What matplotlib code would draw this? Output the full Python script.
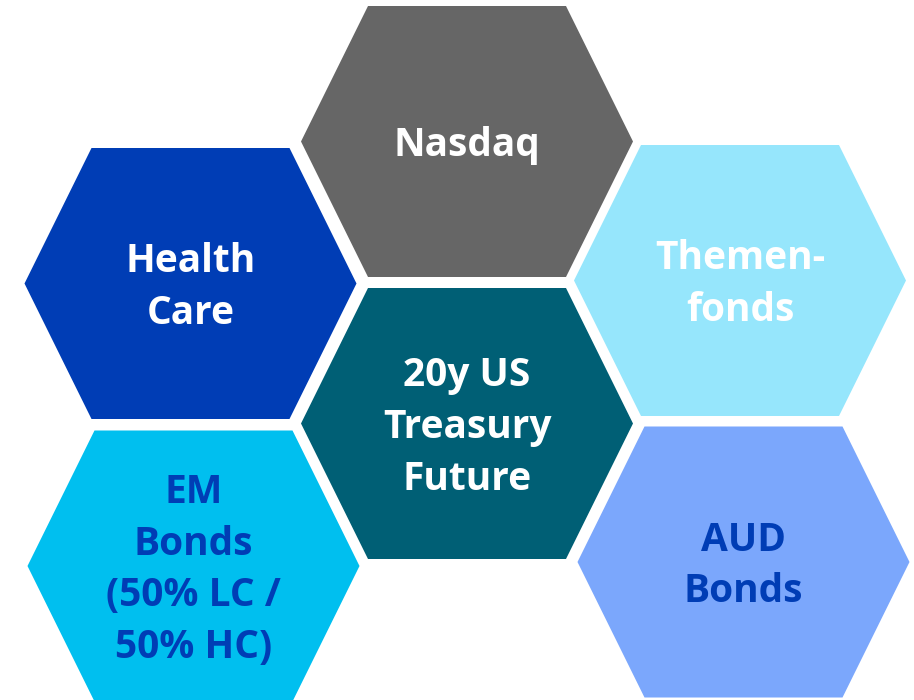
import matplotlib.pyplot as plt
from matplotlib.patches import Polygon

# Hexagon labels and styling
labels = ['Nasdaq', 'Health\nCare', 'Themen-\nfonds', '20y US\nTreasury\nFuture',
          'EM\nBonds\n(50% LC /\n50% HC)', 'AUD\nBonds']
fill_colors = ['#666666', '#003DB5', '#96E6FC', '#005F75', '#00BFEF', '#7BA7FC']
text_colors = ['white', 'white', 'white', 'white', '#003DB5', '#003DB5']

# layout: hexagon centres in pixel coordinates
centers = [(467, 141.5), (190.5, 283.5), (740, 280.5), (467, 423.5), (193.5, 566), (743.5, 562)]
half_w, half_h, top_w = 166, 135.5, 99

fig = plt.figure(figsize=(9.14, 7), dpi=100)
ax = fig.add_axes([0, 0, 1, 1])
ax.set_xlim(0, 914)
ax.set_ylim(700, 0)
ax.axis('off')

for (cx, cy), lab, fc, tc in zip(centers, labels, fill_colors, text_colors):
    verts = [(cx - half_w, cy), (cx - top_w, cy - half_h), (cx + top_w, cy - half_h),
             (cx + half_w, cy), (cx + top_w, cy + half_h), (cx - top_w, cy + half_h)]
    ax.add_patch(Polygon(verts, closed=True, facecolor=fc, edgecolor='none'))
    ax.text(cx, cy + 4, lab, ha='center', va='center', color=tc, fontsize=28,
            fontweight='bold', family='Open Sans', linespacing=1.42)

fig.savefig('out.png', dpi=100)
